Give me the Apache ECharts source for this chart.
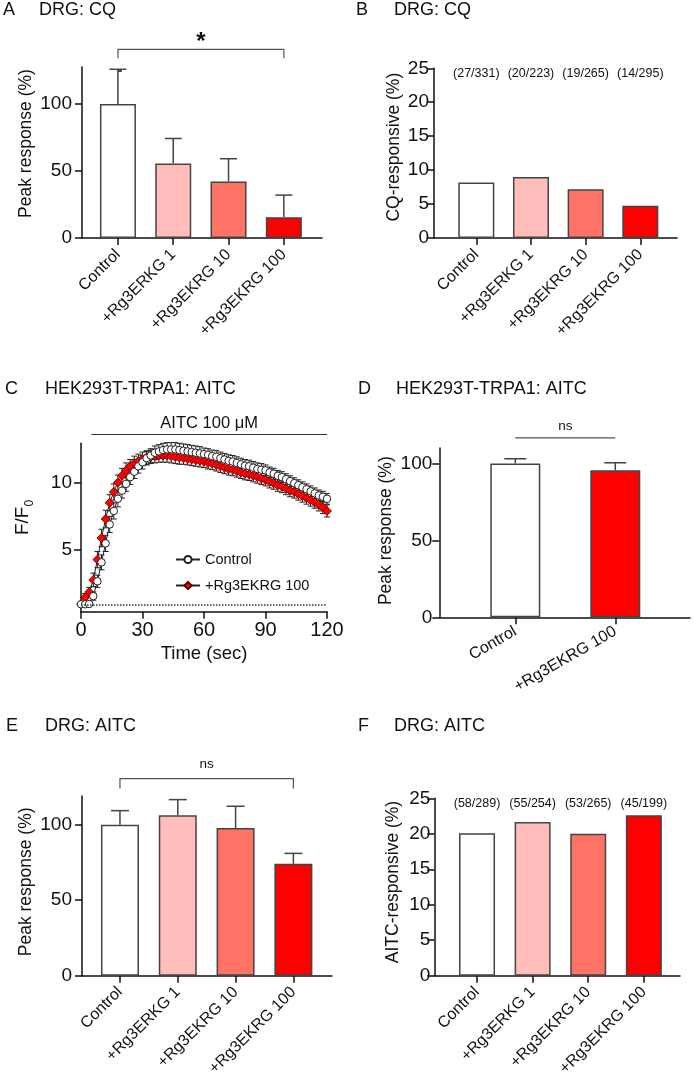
<!DOCTYPE html>
<html><head><meta charset="utf-8">
<script src="https://cdn.jsdelivr.net/npm/echarts@6/dist/echarts.min.js"></script>
<style>html,body{margin:0;padding:0;background:#fff}#c{width:694px;height:1084px}</style>
</head><body><div id="c"></div>
<script>
// ---------- data ----------
const catsDRG = ['Control', '+Rg3ERKG 1', '+Rg3EKRG 10', '+Rg3EKRG 100'];
const catsHEK = ['Control', '+Rg3EKRG 100'];
const barColors = ['#ffffff', '#ffbebb', '#ff7367', '#ff0000'];
const hekColors = ['#ffffff', '#ff0000'];

const aMean = [100, 55.6, 42.2, 15.4];
const aSem = [25.8, 18.6, 16.9, 16.6];
const aSig = [[0, 3, 140.7, 134]];
const aSigText = ['*'];

const bPct = [8.16, 8.97, 7.17, 4.75];
const bCounts = ['(27/331)', '(20/223)', '(19/265)', '(14/295)'];

const cTime = [0,2,4,6,8,10,12,14,16,18,20,22,24,26,28,30,32,34,36,38,40,42,44,46,48,50,52,54,56,58,60,62,64,66,68,70,72,74,76,78,80,82,84,86,88,90,92,94,96,98,100,102,104,106,108,110,112,114,116,118,120];
const cControl = [1.0,1.0,1.02,1.6,2.7,4.1,5.5,6.9,7.9,8.8, 9.4,9.9,10.4,10.8,11.2,11.5,11.8,12.0,12.2,12.3, 12.4,12.45,12.45,12.45,12.4,12.35,12.3,12.25,12.2,12.15, 12.1,12.05,11.95,11.9,11.8,11.7,11.6,11.55,11.45,11.35, 11.25,11.2,11.1,11.0,10.95,10.9,10.75,10.65,10.5,10.4, 10.25,10.1,9.95,9.8,9.65,9.5,9.35,9.2,9.05,8.95, 8.8];
const cControlSem = [0.1,0.1,0.15,0.3,0.45,0.55,0.6,0.6,0.6,0.6, 0.55,0.55,0.55,0.5,0.5,0.5,0.5,0.5,0.5,0.5, 0.5,0.5,0.5,0.5,0.5,0.5,0.5,0.5,0.5,0.5, 0.45,0.45,0.45,0.45,0.45,0.45,0.45,0.45,0.45,0.45, 0.45,0.45,0.45,0.45,0.45,0.4,0.4,0.4,0.4,0.4, 0.4,0.4,0.4,0.4,0.4,0.4,0.4,0.4,0.4,0.4, 0.4];
const cRg = [1.0,1.5,1.9,2.8,4.3,5.9,7.3,8.5,9.3,10.0, 10.5,10.9,11.2,11.45,11.6,11.75,11.85,11.9,11.95,12.0, 12.0,12.0,11.95,11.9,11.85,11.8,11.75,11.7,11.65,11.6, 11.55,11.45,11.4,11.3,11.2,11.1,11.0,10.95,10.85,10.75, 10.65,10.6,10.5,10.4,10.3,10.2,10.05,9.95,9.8,9.7, 9.55,9.4,9.3,9.15,9.0,8.85,8.7,8.55,8.35,8.15, 7.9];
const cRgSem = [0.1,0.3,0.35,0.5,0.6,0.65,0.65,0.6,0.6,0.55, 0.55,0.55,0.5,0.5,0.5,0.5,0.5,0.5,0.5,0.5, 0.5,0.5,0.5,0.5,0.5,0.45,0.45,0.45,0.45,0.45, 0.45,0.45,0.45,0.45,0.45,0.45,0.45,0.45,0.45,0.45, 0.45,0.45,0.45,0.45,0.45,0.45,0.45,0.45,0.45,0.45, 0.45,0.45,0.45,0.45,0.45,0.45,0.45,0.45,0.45,0.45, 0.45];
const cStim = [[5, 120, 13.55]];
const cStimText = ['AITC 100 μM'];
const cBaseline = 1;

const dMean = [100, 95.6];
const dSem = [3.0, 4.8];
const dSig = [[0, 1, 116.6, 116.6]];
const dSigText = ['ns'];

const eMean = [100, 106.2, 97.8, 74.1];
const eSem = [9.3, 10.4, 14.4, 6.9];
const eSig = [[0, 3, 130.5, 124]];
const eSigText = ['ns'];

const fPct = [20.07, 21.65, 20.0, 22.61];
const fCounts = ['(58/289)', '(55/254)', '(53/265)', '(45/199)'];

// ---------- style ----------
const FONT = '"Liberation Sans", Arial, Helvetica, sans-serif';
const INK = '#111';
const ALS = {color: INK, width: 1.5};
const GREY = '#444';

function yAx(gi, min, max, labelVals, tickVals, name, nameGap, margin, nameShift) {
  return {
    type: 'value', gridIndex: gi, min: min, max: max,
    axisLine: {show: true, onZero: false, lineStyle: ALS},
    axisTick: {show: true, length: 7, customValues: tickVals, lineStyle: ALS},
    axisLabel: {customValues: labelVals, margin: margin, fontSize: 19, color: INK, fontFamily: FONT},
    splitLine: {show: false},
    name: name, nameLocation: 'middle', nameGap: nameGap, nameRotate: 90,
    nameTextStyle: {fontSize: 17.5, color: INK, fontFamily: FONT, padding: [0, 0, 0, nameShift || 0]}
  };
}
function yMinor(gi, min, max, tickVals) {
  return {
    type: 'value', gridIndex: gi, min: min, max: max,
    axisLine: {show: false},
    axisTick: {show: true, length: 4, customValues: tickVals, lineStyle: ALS},
    axisLabel: {show: false}, splitLine: {show: false}
  };
}
function xCat(gi, min, max, cats, rotate, margin) {
  const idx = cats.map((c, i) => i);
  return {
    type: 'value', gridIndex: gi, min: min, max: max,
    axisLine: {show: true, onZero: false, lineStyle: ALS},
    axisTick: {show: true, length: 7, customValues: idx, lineStyle: ALS},
    axisLabel: {customValues: idx, formatter: v => cats[Math.round(v)], rotate: rotate, margin: margin,
      fontSize: 16, color: INK, fontFamily: FONT},
    splitLine: {show: false}
  };
}
function bars(gi, yi, vals, colors, width) {
  return {
    type: 'bar', xAxisIndex: gi, yAxisIndex: yi, barWidth: width, z: 2,
    itemStyle: {borderColor: GREY, borderWidth: 1.5},
    data: vals.map((v, i) => ({value: [i, v], itemStyle: {color: colors[i]}}))
  };
}
function barErr(gi, yi, vals, sems, half) {
  return {
    type: 'custom', xAxisIndex: gi, yAxisIndex: yi, clip: false, z: 3,
    data: vals.map((v, i) => [i, v, sems[i]]),
    renderItem: (p, api) => {
      const x = api.value(0), m = api.value(1), s = api.value(2);
      const a = api.coord([x, m]), b = api.coord([x, m + s]);
      const st = {stroke: GREY, lineWidth: 1.5};
      return {type: 'group', children: [
        {type: 'line', shape: {x1: a[0], y1: a[1], x2: b[0], y2: b[1]}, style: st},
        {type: 'line', shape: {x1: b[0] - half, y1: b[1], x2: b[0] + half, y2: b[1]}, style: st}
      ]};
    }
  };
}
function bracket(gi, yi, items, texts, textStyle, textOff) {
  return {
    type: 'custom', xAxisIndex: gi, yAxisIndex: yi, clip: false, z: 3,
    data: items,
    renderItem: (p, api) => {
      const x1 = api.value(0), x2 = api.value(1), y = api.value(2), yd = api.value(3);
      const a = api.coord([x1, yd]), b = api.coord([x1, y]), c = api.coord([x2, y]), d = api.coord([x2, yd]);
      return {type: 'group', children: [
        {type: 'polyline', shape: {points: [a, b, c, d]}, style: {stroke: '#555', lineWidth: 1.2, fill: null}},
        {type: 'text', x: (b[0] + c[0]) / 2, y: b[1] - textOff,
          style: Object.assign({text: texts[p.dataIndex], fill: INK, align: 'center', verticalAlign: 'middle', fontFamily: FONT}, textStyle)}
      ]};
    }
  };
}
function counts(gi, yi, texts, level) {
  return {
    type: 'custom', xAxisIndex: gi, yAxisIndex: yi, clip: false, z: 3,
    data: texts.map((t, i) => [i, level]),
    renderItem: (p, api) => {
      const c = api.coord([api.value(0), api.value(1)]);
      return {type: 'text', x: c[0], y: c[1],
        style: {text: texts[p.dataIndex], fill: INK, fontSize: 12.5, fontFamily: FONT, align: 'center', verticalAlign: 'middle'}};
    }
  };
}
function lineErr(gi, t, m, s) {
  return {
    type: 'custom', xAxisIndex: gi, yAxisIndex: gi, clip: false, z: 1,
    data: t.map((v, i) => [v, m[i], s[i]]),
    renderItem: (p, api) => {
      const x = api.value(0), mm = api.value(1), ss = api.value(2);
      const lo = api.coord([x, mm - ss]), hi = api.coord([x, mm + ss]);
      const h = 3, st = {stroke: '#222', lineWidth: 1};
      return {type: 'group', children: [
        {type: 'line', shape: {x1: lo[0], y1: lo[1], x2: hi[0], y2: hi[1]}, style: st},
        {type: 'line', shape: {x1: lo[0] - h, y1: lo[1], x2: lo[0] + h, y2: lo[1]}, style: st},
        {type: 'line', shape: {x1: hi[0] - h, y1: hi[1], x2: hi[0] + h, y2: hi[1]}, style: st}
      ]};
    }
  };
}
function stim(gi) {
  return {
    type: 'custom', xAxisIndex: gi, yAxisIndex: gi, clip: false, z: 3,
    data: cStim,
    renderItem: (p, api) => {
      const a = api.coord([api.value(0), api.value(2)]), b = api.coord([api.value(1), api.value(2)]);
      return {type: 'group', children: [
        {type: 'line', shape: {x1: a[0], y1: a[1], x2: b[0], y2: b[1]}, style: {stroke: '#333', lineWidth: 1.2}},
        {type: 'text', x: (a[0] + b[0]) / 2, y: a[1] - 11,
          style: {text: cStimText[p.dataIndex], fill: INK, fontSize: 16.5, fontFamily: FONT, align: 'center', verticalAlign: 'middle'}}
      ]};
    }
  };
}
function ttl(text, left, top) {
  return {text: text, left: left, top: top, padding: 0,
    textStyle: {fontSize: 18, fontWeight: 'normal', color: INK, fontFamily: FONT}};
}

const chart = echarts.init(document.getElementById('c'), null, {renderer: 'canvas'});
chart.setOption({
  backgroundColor: '#fff',
  animation: false,
  title: [
    ttl('A', 3, 1), ttl('DRG: CQ', 39, 1),
    ttl('B', 356, 1), ttl('DRG: CQ', 394, 1),
    ttl('C', 5, 380), ttl('HEK293T-TRPA1: AITC', 45, 380),
    ttl('D', 358, 380), ttl('HEK293T-TRPA1: AITC', 396, 380),
    ttl('E', 6, 717), ttl('DRG: AITC', 45, 717),
    ttl('F', 358, 717), ttl('DRG: AITC', 394, 717)
  ],
  grid: [
    {left: 82, top: 67, width: 240, height: 171},
    {left: 434, top: 68.3, width: 243, height: 169.7},
    {left: 81, top: 443.3, width: 246, height: 168.4},
    {left: 439.3, top: 448, width: 250.7, height: 169.3},
    {left: 82, top: 796, width: 250, height: 179.7},
    {left: 434.3, top: 798.3, width: 245.7, height: 177.4}
  ],
  legend: {
    data: ['Control', '+Rg3EKRG 100'], orient: 'vertical', left: 170, top: 547,
    itemWidth: 24, itemHeight: 9, itemGap: 11, selectedMode: false,
    textStyle: {fontSize: 14.5, color: INK, fontFamily: FONT}
  },
  xAxis: [
    xCat(0, -0.65, 3.69, catsDRG, 45, 14),
    xCat(1, -0.774, 3.671, catsDRG, 45, 14),
    {type: 'value', gridIndex: 2, min: 0, max: 120, interval: 30,
      axisLine: {show: true, onZero: false, lineStyle: ALS},
      axisTick: {show: true, length: 7, lineStyle: ALS},
      axisLabel: {margin: 9, fontSize: 20, color: INK, fontFamily: FONT},
      splitLine: {show: false},
      name: 'Time (sec)', nameLocation: 'middle', nameGap: 33,
      nameTextStyle: {fontSize: 18.5, color: INK, fontFamily: FONT}},
    xCat(3, -0.76, 1.747, catsHEK, 30, 13),
    xCat(4, -0.657, 3.668, catsDRG, 45, 14),
    xCat(5, -0.768, 3.65, catsDRG, 45, 14)
  ],
  yAxis: [
    yAx(0, 0, 127.5, [0, 50, 100], [0, 50, 100], 'Peak response (%)', 47, 10, 18),
    yAx(1, 0, 25, [0, 5, 10, 15, 20, 25], [0, 5, 10, 15, 20, 25], 'CQ-responsive (%)', 31, 5, 12),
    Object.assign(yAx(2, 0.45, 12.9, [5, 10], [5, 10], '{a|F/F}{b|0}', 45, 9, 0), {
      nameTextStyle: {fontFamily: FONT, color: INK, padding: [0, 0, 0, 20], rich: {
        a: {fontSize: 19, lineHeight: 26, fontFamily: FONT, color: INK},
        b: {fontSize: 12, lineHeight: 12, verticalAlign: 'bottom', fontFamily: FONT, color: INK}}}
    }),
    yAx(3, 0, 110, [0, 50, 100], [0, 50, 100], 'Peak response (%)', 44, 7, 4),
    yAx(4, 0, 119, [0, 50, 100], [0, 50, 100], 'Peak response (%)', 47, 10, 8),
    yAx(5, 0, 25, [0, 5, 10, 15, 20, 25], [0, 5, 10, 15, 20, 25], 'AITC-responsive (%)', 32, 4, 10),
    yMinor(0, 0, 127.5, [25, 75, 125]),
    yMinor(4, 0, 119, [25, 75])
  ],
  series: [
    bars(0, 0, aMean, barColors, 36),
    barErr(0, 0, aMean, aSem, 8.5),
    bracket(0, 0, aSig, aSigText, {fontSize: 24, fontWeight: 'bold'}, 7),

    bars(1, 1, bPct, barColors, 36),
    counts(1, 1, bCounts, 24.3),

    lineErr(2, cTime, cRg, cRgSem),
    lineErr(2, cTime, cControl, cControlSem),
    {type: 'line', name: '+Rg3EKRG 100', xAxisIndex: 2, yAxisIndex: 2, z: 2,
      data: cTime.map((t, i) => [t, cRg[i]]),
      symbol: 'diamond', symbolSize: 9, showSymbol: true,
      itemStyle: {color: '#ff0000', borderColor: '#5a0000', borderWidth: 0.8},
      lineStyle: {color: '#222', width: 1}},
    {type: 'line', name: 'Control', xAxisIndex: 2, yAxisIndex: 2, z: 3,
      data: cTime.map((t, i) => [t, cControl[i]]),
      symbol: 'circle', symbolSize: 7.5, showSymbol: true,
      itemStyle: {color: '#ffffff', borderColor: '#222', borderWidth: 1},
      lineStyle: {color: '#222', width: 1},
      markLine: {silent: true, symbol: 'none', label: {show: false},
        lineStyle: {type: 'dotted', color: '#333', width: 1.5},
        data: [{yAxis: cBaseline}]}},
    stim(2),

    bars(3, 3, dMean, hekColors, 50),
    barErr(3, 3, dMean, dSem, 11),
    bracket(3, 3, dSig, dSigText, {fontSize: 13.5}, 11.5),

    bars(4, 4, eMean, barColors, 38),
    barErr(4, 4, eMean, eSem, 9),
    bracket(4, 4, eSig, eSigText, {fontSize: 13.5}, 14),

    bars(5, 5, fPct, barColors, 36),
    counts(5, 5, fCounts, 24.2)
  ]
});
</script></body></html>
